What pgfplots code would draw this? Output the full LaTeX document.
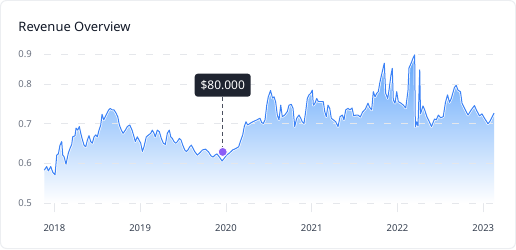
\documentclass[border=0pt]{standalone}
\usepackage{fontspec}
\setmainfont{Noto Sans}
\usepackage{pgfplots}
\pgfplotsset{compat=1.18}
\usepackage{pgfplotstable}

\definecolor{linec}{HTML}{3B82F6}
\definecolor{fillc}{HTML}{60A5FA}
\definecolor{gridc}{HTML}{E5E7EB}
\definecolor{titlec}{HTML}{111827}
\definecolor{ylabc}{HTML}{6B7280}
\definecolor{xlabc}{HTML}{374151}
\definecolor{tipc}{HTML}{1F2430}
\definecolor{dashc}{HTML}{4B505F}
\definecolor{dotc}{HTML}{8B5CF6}
\definecolor{cardc}{HTML}{ECEEF1}

\pgfplotstableread{
x y
2017.883 0.583
2017.911 0.592
2017.930 0.581
2017.958 0.592
2017.981 0.578
2018.008 0.571
2018.028 0.621
2018.047 0.624
2018.066 0.646
2018.086 0.655
2018.098 0.621
2018.113 0.617
2018.136 0.598
2018.163 0.626
2018.183 0.638
2018.203 0.648
2018.214 0.667
2018.241 0.670
2018.253 0.689
2018.273 0.684
2018.291 0.693
2018.308 0.676
2018.323 0.663
2018.346 0.646
2018.366 0.642
2018.385 0.659
2018.404 0.670
2018.424 0.655
2018.443 0.651
2018.463 0.667
2018.483 0.672
2018.501 0.667
2018.521 0.684
2018.541 0.697
2018.556 0.724
2018.576 0.710
2018.594 0.718
2018.614 0.727
2018.634 0.735
2018.653 0.739
2018.672 0.735
2018.696 0.735
2018.719 0.727
2018.739 0.718
2018.758 0.697
2018.781 0.684
2018.801 0.676
2018.828 0.684
2018.851 0.693
2018.879 0.697
2018.906 0.684
2018.929 0.667
2018.944 0.655
2018.967 0.667
2018.987 0.659
2019.007 0.651
2019.026 0.630
2019.045 0.642
2019.072 0.667
2019.100 0.672
2019.124 0.676
2019.142 0.684
2019.162 0.676
2019.177 0.667
2019.200 0.684
2019.224 0.680
2019.247 0.663
2019.270 0.651
2019.294 0.648
2019.317 0.676
2019.340 0.684
2019.357 0.667
2019.375 0.663
2019.395 0.655
2019.415 0.651
2019.434 0.655
2019.457 0.663
2019.477 0.659
2019.497 0.646
2019.520 0.634
2019.538 0.630
2019.558 0.634
2019.578 0.642
2019.597 0.646
2019.617 0.638
2019.636 0.630
2019.667 0.621
2019.692 0.626
2019.727 0.634
2019.762 0.636
2019.797 0.629
2019.826 0.619
2019.850 0.616
2019.873 0.621
2019.896 0.624
2019.925 0.616
2019.955 0.606
2019.981 0.613
2020.009 0.621
2020.040 0.626
2020.079 0.634
2020.118 0.638
2020.149 0.642
2020.168 0.655
2020.196 0.672
2020.214 0.693
2020.234 0.705
2020.254 0.697
2020.281 0.701
2020.312 0.705
2020.343 0.708
2020.371 0.711
2020.397 0.714
2020.417 0.703
2020.436 0.701
2020.456 0.710
2020.476 0.747
2020.494 0.768
2020.520 0.784
2020.543 0.765
2020.561 0.768
2020.580 0.755
2020.599 0.722
2020.619 0.710
2020.639 0.747
2020.657 0.718
2020.685 0.722
2020.716 0.731
2020.735 0.747
2020.762 0.749
2020.782 0.739
2020.802 0.693
2020.825 0.714
2020.852 0.722
2020.872 0.714
2020.890 0.705
2020.910 0.701
2020.930 0.731
2020.949 0.764
2020.969 0.773
2020.988 0.777
2021.007 0.785
2021.019 0.747
2021.038 0.752
2021.058 0.764
2021.077 0.756
2021.105 0.756
2021.135 0.756
2021.152 0.731
2021.170 0.718
2021.190 0.747
2021.210 0.739
2021.228 0.714
2021.252 0.710
2021.280 0.705
2021.307 0.693
2021.330 0.718
2021.357 0.722
2021.376 0.710
2021.396 0.735
2021.423 0.739
2021.446 0.735
2021.470 0.740
2021.490 0.720
2021.516 0.722
2021.540 0.722
2021.566 0.717
2021.594 0.730
2021.625 0.737
2021.656 0.752
2021.674 0.742
2021.699 0.735
2021.718 0.781
2021.738 0.768
2021.758 0.777
2021.776 0.781
2021.796 0.806
2021.823 0.832
2021.846 0.853
2021.862 0.777
2021.886 0.764
2021.901 0.785
2021.924 0.823
2021.939 0.840
2021.951 0.760
2021.971 0.752
2021.991 0.781
2022.009 0.756
2022.041 0.752
2022.068 0.747
2022.096 0.740
2022.122 0.783
2022.134 0.841
2022.161 0.854
2022.181 0.866
2022.200 0.874
2022.208 0.692
2022.224 0.705
2022.239 0.694
2022.259 0.836
2022.268 0.725
2022.297 0.745
2022.317 0.735
2022.344 0.717
2022.367 0.707
2022.396 0.693
2022.431 0.712
2022.452 0.710
2022.476 0.722
2022.504 0.715
2022.533 0.718
2022.559 0.754
2022.583 0.773
2022.606 0.754
2022.627 0.764
2022.664 0.792
2022.684 0.797
2022.705 0.785
2022.734 0.781
2022.752 0.752
2022.781 0.739
2022.822 0.722
2022.859 0.735
2022.897 0.746
2022.921 0.734
2022.956 0.720
2022.985 0.725
2023.014 0.714
2023.055 0.700
2023.080 0.707
2023.125 0.727
}\revdata

\begin{document}
\begin{tikzpicture}[x=1bp,y=1bp]
\draw[cardc, fill=white, rounded corners=6bp, line width=1bp] (0.5,0.5) rectangle (515.5,248.5);
\node[anchor=base west, font=\fontsize{13}{15}\selectfont, text=titlec, inner sep=0] at (18.3,217.3) {Revenue Overview};
\begin{axis}[
  at={(44.3bp,46bp)}, anchor=south west,
  scale only axis, width=449.7bp, height=148.5bp,
  xmin=2017.883, xmax=2023.125, ymin=0.5, ymax=0.875,
  xtick={2018,2019,2020,2021,2022,2023},
  xticklabels={2018,2019,2020,2021,2022,2023},
  ytick={0.5,0.6,0.7,0.8,0.875},
  yticklabels={0.5,0.6,0.7,0.8,0.9},
  axis line style={draw=none},
  tick align=outside, major tick length=9bp,
  xtick pos=bottom, ytick pos=left,
  xtick style={gridc, line width=0.8bp},
  ytick style={draw=none},
  tick label style={font=\fontsize{9.5}{11}\selectfont},
  xticklabel style={text=xlabc, yshift=-9bp},
  yticklabel style={text=ylabc},
  clip=false,
]
\addplot[draw=none, top color=fillc, bottom color=white, forget plot] table[x=x,y=y]{\revdata} |- (axis cs:2017.883,0.5) -- cycle;
\foreach \g in {0.5,0.6,0.7,0.8,0.875}{
  \edef\tmp{\noexpand\addplot[gridc, dash pattern=on 7bp off 10bp, line width=0.8bp, forget plot] coordinates {(2017.883,\g) (2023.125,\g)};}
  \tmp
}
\addplot[white, line width=2.4bp, line join=round, forget plot] table[x=x,y=y]{\revdata};
\addplot[linec, line width=1bp, line join=round] table[x=x,y=y]{\revdata};
\draw[dashc, dash pattern=on 4bp off 3bp, line width=1.2bp] (axis cs:2019.963,0.768) -- (axis cs:2019.963,0.629);
\addplot[only marks, mark=*, mark size=4.5bp, mark options={fill=dotc, draw=white, line width=0.8bp}] coordinates {(2019.963,0.629)};
\node[fill=tipc, text=white, rounded corners=3bp, minimum width=56bp, minimum height=23bp, inner sep=0, anchor=south, font=\fontsize{12}{14}\selectfont] at (axis cs:2019.963,0.768) {\$80.000};
\end{axis}
\end{tikzpicture}
\end{document}
